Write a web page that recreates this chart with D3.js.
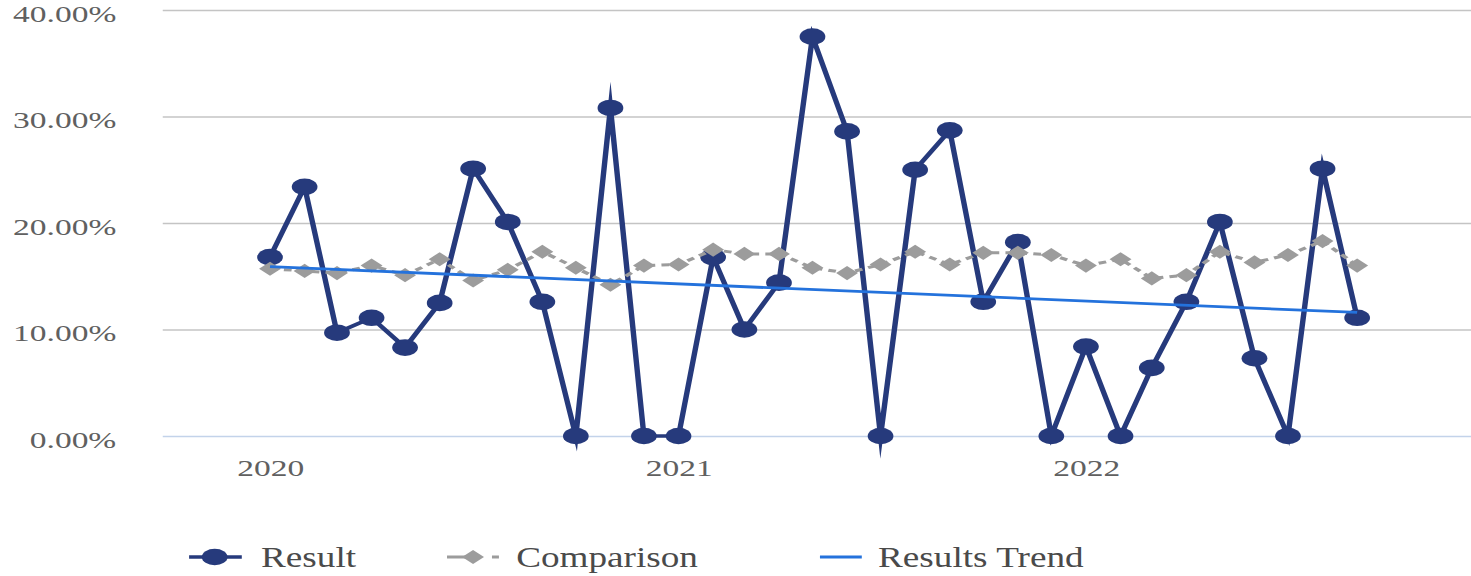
<!DOCTYPE html>
<html>
<head>
<meta charset="utf-8">
<script src="https://cdn.jsdelivr.net/npm/d3@7"></script>
<style>
  body { margin: 0; background: #fff; overflow: hidden; }
  text { font-family: "Liberation Serif", "DejaVu Serif", serif; }
</style>
</head>
<body>
<div id="chart"></div>
<script>
var months = ["2020-01","2020-02","2020-03","2020-04","2020-05","2020-06","2020-07","2020-08","2020-09","2020-10","2020-11","2020-12",
              "2021-01","2021-02","2021-03","2021-04","2021-05","2021-06","2021-07","2021-08","2021-09","2021-10","2021-11","2021-12",
              "2022-01","2022-02","2022-03","2022-04","2022-05","2022-06","2022-07","2022-08","2022-09"];
var result = [16.8, 23.4, 9.7, 11.1, 8.3, 12.5, 25.1, 20.1, 12.6, 0, 30.8, 0,
              0, 16.8, 10.0, 14.4, 37.5, 28.6, 0, 25.0, 28.7, 12.6, 18.2, 0,
              8.4, 0, 6.4, 12.6, 20.1, 7.3, 0, 25.1, 11.1];
var comparison = [15.7, 15.5, 15.3, 16.0, 15.1, 16.6, 14.6, 15.6, 17.3, 15.8, 14.2, 16.0,
                  16.1, 17.5, 17.1, 17.1, 15.8, 15.3, 16.1, 17.3, 16.1, 17.2, 17.2, 17.0,
                  16.0, 16.6, 14.8, 15.1, 17.3, 16.3, 17.0, 18.3, 16.0];
var trendMonths = ["2020-01", "2022-09"];
var trendValues = [15.9, 11.6];
var yTicks = [0, 10, 20, 30, 40];
var yearTicks = ["2020-01", "2021-01", "2022-01"];
var seriesNames = ["Result", "Comparison", "Results Trend"];

// the original picture is stretched sideways, so draw in a narrower box and let the svg stretch it
var stretch = 1.55,
    W = 1471 / stretch,
    H = 576,
    plotLeft = 105,
    navy = "#263a7c",
    grey = "#9c9c9c",
    blue = "#2472dc",
    axisSquash = 0.9,
    legendSquash = 0.8;

var parse = d3.timeParse("%Y-%m");

var svg = d3.select("#chart").append("svg")
    .attr("width", 1471)
    .attr("height", 576)
    .attr("viewBox", "0 0 " + W + " " + H)
    .attr("preserveAspectRatio", "none");

var x = d3.scaleTime()
    .domain([parse("2020-01"), parse("2022-01")])
    .range([174.2, 700.6]);

var y = d3.scaleLinear()
    .domain([0, 40])
    .range([436, 10]);

// gridlines + y labels
var yAxis = svg.append("g")
    .attr("transform", "translate(" + plotLeft + ",0)")
    .call(d3.axisLeft(y)
        .tickValues(yTicks)
        .tickSize(-(W - plotLeft))
        .tickPadding(30)
        .tickFormat(function(d) { return d.toFixed(2) + "%"; }));
yAxis.select(".domain").remove();
yAxis.selectAll(".tick line")
    .attr("stroke", function(d) { return d === 0 ? "#c3d3ea" : "#c4c4c4"; })
    .attr("stroke-width", 1.4);
yAxis.selectAll(".tick text")
    .attr("x", -30 / axisSquash)
    .attr("transform", "scale(" + axisSquash + ",1)")
    .attr("dy", "0.46em")
    .attr("fill", "#606060")
    .style("font-size", "24px");

// year labels
var xAxis = svg.append("g")
    .attr("transform", "translate(0," + y(0) + ")")
    .call(d3.axisBottom(x)
        .tickValues(yearTicks.map(parse))
        .tickSize(0)
        .tickPadding(23)
        .tickFormat(d3.timeFormat("%Y")));
xAxis.select(".domain").remove();
xAxis.selectAll(".tick text")
    .attr("transform", "scale(" + axisSquash + ",1)")
    .attr("fill", "#606060")
    .style("font-size", "24px");

var resultData = months.map(function(m, i) { return { date: parse(m), value: result[i] }; });
var compData = months.map(function(m, i) { return { date: parse(m), value: comparison[i] }; });
var trendData = trendMonths.map(function(m, i) { return { date: parse(m), value: trendValues[i] }; });

var line = d3.line()
    .x(function(d) { return x(d.date); })
    .y(function(d) { return y(d.value); });

// Result
svg.append("path")
    .datum(resultData)
    .attr("fill", "none")
    .attr("stroke", navy)
    .attr("stroke-width", 3.5)
    .attr("stroke-linejoin", "miter")
    .attr("stroke-miterlimit", 20)
    .attr("d", line);
svg.append("g")
    .selectAll("circle")
    .data(resultData).enter()
    .append("circle")
    .attr("cx", function(d) { return x(d.date); })
    .attr("cy", function(d) { return y(d.value); })
    .attr("r", 8.3)
    .attr("fill", navy);

// Comparison
svg.append("path")
    .datum(compData)
    .attr("fill", "none")
    .attr("stroke", grey)
    .attr("stroke-width", 3)
    .attr("stroke-dasharray", "5,4")
    .attr("d", line);
var diamond = d3.symbol().type(d3.symbolSquare).size(100);
svg.append("g")
    .selectAll("path")
    .data(compData).enter()
    .append("path")
    .attr("d", diamond)
    .attr("fill", grey)
    .attr("transform", function(d) { return "translate(" + x(d.date) + "," + y(d.value) + ") rotate(45)"; });

// Trend
svg.append("path")
    .datum(trendData)
    .attr("fill", "none")
    .attr("stroke", blue)
    .attr("stroke-width", 2.8)
    .attr("d", line);

// legend
var ly = 557;
var legend = svg.append("g");
var lx = [122, 288.4, 529];

legend.append("line")
    .attr("x1", lx[0]).attr("x2", lx[0] + 34).attr("y1", ly).attr("y2", ly)
    .attr("stroke", navy).attr("stroke-width", 3.5);
legend.append("circle")
    .attr("cx", lx[0] + 16.5).attr("cy", ly).attr("r", 8.3).attr("fill", navy);

legend.append("line")
    .attr("x1", lx[1]).attr("x2", lx[1] + 34).attr("y1", ly).attr("y2", ly)
    .attr("stroke", grey).attr("stroke-width", 3).attr("stroke-dasharray", "14.8,14.2,4.5,20");
legend.append("path")
    .attr("d", diamond)
    .attr("fill", grey)
    .attr("transform", "translate(" + (lx[1] + 16.8) + "," + ly + ") rotate(45)");

legend.append("line")
    .attr("x1", lx[2]).attr("x2", lx[2] + 27).attr("y1", ly).attr("y2", ly)
    .attr("stroke", blue).attr("stroke-width", 2.8);

var textX = [168.4, 333, 566.5];
legend.selectAll("text")
    .data(seriesNames).enter()
    .append("text")
    .attr("transform", "scale(" + legendSquash + ",1)")
    .attr("x", function(d, i) { return textX[i] / legendSquash; })
    .attr("y", ly)
    .attr("dy", "0.32em")
    .attr("fill", "#4a4a4a")
    .style("font-size", "30px")
    .text(function(d) { return d; });
</script>
</body>
</html>
